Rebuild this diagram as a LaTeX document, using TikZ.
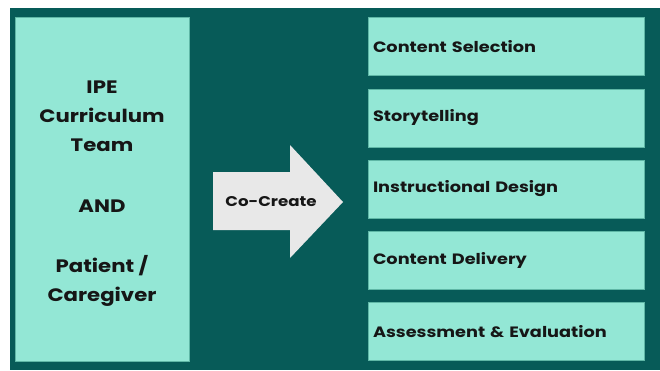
\documentclass[tikz,border=0pt]{standalone}
\usepackage{fontspec}
\setmainfont{Poppins}[BoldFont={Poppins Bold}, FakeStretch=1.18]
\definecolor{bgteal}{HTML}{075B58}
\definecolor{mint}{HTML}{93E7D5}
\definecolor{mintedge}{HTML}{5FB7A6}
\definecolor{arrowgray}{HTML}{E8E8E8}
\definecolor{ink}{HTML}{161616}
\tikzset{
  mintbox/.style={fill=mint, draw=mintedge, line width=1pt},
  itembox/.style={mintbox, minimum width=276pt, minimum height=58pt, text width=266pt, inner xsep=5pt, align=left, font=\bfseries\fontsize{15}{17}\selectfont, text=ink},
  teambox/.style={mintbox, minimum width=174pt, minimum height=344pt},
  teamtext/.style={align=center, font=\bfseries\fontsize{18}{29}\selectfont, text=ink},
}
\begin{document}
\begin{tikzpicture}[x=1pt,y=-1pt]
\useasboundingbox (0,0) rectangle (660,370);
\fill[bgteal] (10,8) rectangle (660,370);
\node[teambox] (team) at (102,189) {};
\node[teamtext] (teamlabel) at (102,193.5) {IPE\\Curriculum\\Team\\[32pt]AND\\[31pt]Patient /\\Caregiver};
\node[itembox] (b1) at (506,46.5) {Content Selection};
\node[itembox] (b2) at (506,118) {Storytelling};
\node[itembox] (b3) at (506,189) {Instructional Design};
\node[itembox] (b4) at (506,260.5) {Content Delivery};
\node[itembox] (b5) at (506,331.5) {Assessment \& Evaluation};
\fill[arrowgray] (213,172) -- (290,172) -- (290,145) -- (343,202) -- (290,258) -- (290,230) -- (213,230) -- cycle;
\node[font=\bfseries\fontsize{14.1}{16}\selectfont, text=ink] (cocreate) at (271,202) {Co-Create};
\end{tikzpicture}
\end{document}
